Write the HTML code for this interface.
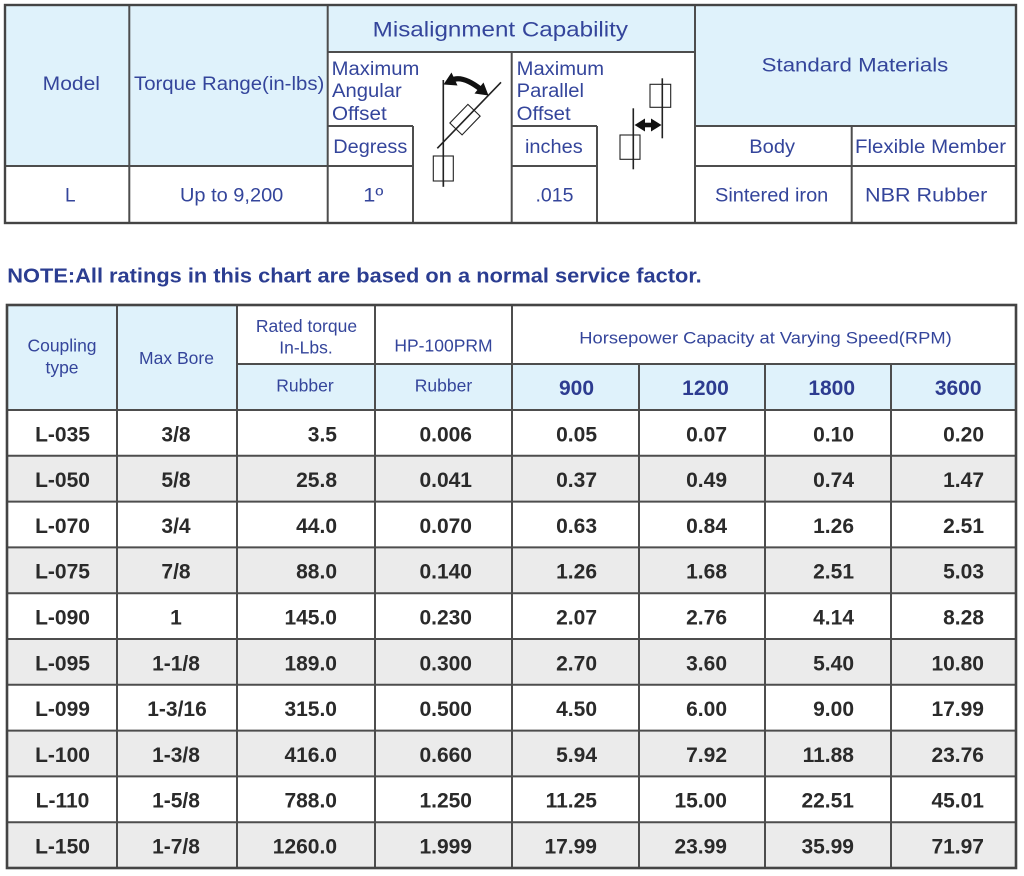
<!DOCTYPE html>
<html>
<head>
<meta charset="utf-8">
<style>
  html, body { margin:0; padding:0; background:#ffffff; }
  svg { display:block; }
  .h { font-family:"Liberation Sans", Arial, sans-serif; fill:#34459b; }
  .d { font-family:"Liberation Sans", Arial, sans-serif; font-weight:bold; font-size:21px; fill:#2a2a2a; }
  .b { font-family:"Liberation Sans", Arial, sans-serif; font-weight:bold; font-size:21px; fill:#2d3c90; }
</style>
</head>
<body>
<svg width="1024" height="876" viewBox="0 0 1024 876" xmlns="http://www.w3.org/2000/svg">

  <!-- ================= TOP TABLE ================= -->
  <rect x="5" y="5" width="322.7" height="161" fill="#dff2fb"/>
  <rect x="327.7" y="5" width="367.3" height="47" fill="#dff2fb"/>
  <rect x="695" y="5" width="321" height="121" fill="#dff2fb"/>

  <g stroke="#4d4d4d" stroke-width="2" fill="none">
    <line x1="129.3" y1="5" x2="129.3" y2="223"/>
    <line x1="327.7" y1="5" x2="327.7" y2="223"/>
    <line x1="695" y1="5" x2="695" y2="223"/>
    <line x1="327.7" y1="52" x2="695" y2="52"/>
    <line x1="511.7" y1="52" x2="511.7" y2="223"/>
    <line x1="327.7" y1="126" x2="413" y2="126"/>
    <line x1="511.7" y1="126" x2="597" y2="126"/>
    <line x1="695" y1="126" x2="1016" y2="126"/>
    <line x1="413" y1="126" x2="413" y2="223"/>
    <line x1="597" y1="126" x2="597" y2="223"/>
    <line x1="5" y1="166" x2="413" y2="166"/>
    <line x1="511.7" y1="166" x2="597" y2="166"/>
    <line x1="695" y1="166" x2="1016" y2="166"/>
    <line x1="851.7" y1="126" x2="851.7" y2="223"/>
  </g>
  <rect x="5" y="5" width="1011" height="218" fill="none" stroke="#444" stroke-width="2.4"/>

  <text class="h" x="372.7" y="36.7" font-size="21" textLength="255.3" lengthAdjust="spacingAndGlyphs">Misalignment Capability</text>
  <text class="h" x="42.7" y="90" font-size="19" textLength="57.3" lengthAdjust="spacingAndGlyphs">Model</text>
  <text class="h" x="134" y="90" font-size="19" textLength="190.3" lengthAdjust="spacingAndGlyphs">Torque Range(in-lbs)</text>
  <text class="h" x="331.7" y="75" font-size="19" textLength="87.6" lengthAdjust="spacingAndGlyphs">Maximum</text>
  <text class="h" x="332" y="97" font-size="19" textLength="69.7" lengthAdjust="spacingAndGlyphs">Angular</text>
  <text class="h" x="332" y="120" font-size="19" textLength="54.7" lengthAdjust="spacingAndGlyphs">Offset</text>
  <text class="h" x="333.3" y="153" font-size="19" textLength="74" lengthAdjust="spacingAndGlyphs">Degress</text>
  <text class="h" x="65" y="201.7" font-size="19">L</text>
  <text class="h" x="180" y="201.7" font-size="19" textLength="103.3" lengthAdjust="spacingAndGlyphs">Up to 9,200</text>
  <text class="h" x="363.3" y="201.7" font-size="19" textLength="20" lengthAdjust="spacingAndGlyphs">1º</text>
  <text class="h" x="516.7" y="75" font-size="19" textLength="87.3" lengthAdjust="spacingAndGlyphs">Maximum</text>
  <text class="h" x="516.7" y="97" font-size="19" textLength="67.3" lengthAdjust="spacingAndGlyphs">Parallel</text>
  <text class="h" x="516.7" y="120" font-size="19" textLength="54" lengthAdjust="spacingAndGlyphs">Offset</text>
  <text class="h" x="525" y="153" font-size="19" textLength="57.7" lengthAdjust="spacingAndGlyphs">inches</text>
  <text class="h" x="535.5" y="201.7" font-size="19" textLength="38" lengthAdjust="spacingAndGlyphs">.015</text>
  <text class="h" x="761.7" y="71.7" font-size="19" textLength="186.6" lengthAdjust="spacingAndGlyphs">Standard Materials</text>
  <text class="h" x="749.3" y="153" font-size="19" textLength="45.7" lengthAdjust="spacingAndGlyphs">Body</text>
  <text class="h" x="855" y="153" font-size="19" textLength="151" lengthAdjust="spacingAndGlyphs">Flexible Member</text>
  <text class="h" x="715" y="201.7" font-size="19" textLength="113.3" lengthAdjust="spacingAndGlyphs">Sintered iron</text>
  <text class="h" x="865" y="201.7" font-size="19" textLength="122.3" lengthAdjust="spacingAndGlyphs">NBR Rubber</text>

  <!-- angular icon -->
  <g stroke="#222" fill="none">
    <line x1="443.3" y1="80" x2="443.3" y2="186.7" stroke-width="1.6"/>
    <rect x="433.3" y="156" width="20" height="25" stroke-width="1.1" fill="#fff"/>
    <line x1="443.3" y1="156" x2="443.3" y2="186.7" stroke-width="1.6"/>
    <line x1="437.3" y1="148.3" x2="501" y2="82.3" stroke-width="1.6"/>
    <rect x="-13" y="-8.5" width="26" height="17" stroke-width="1.1" transform="translate(465,119.6) rotate(-46)"/>
    <path d="M 451,80.5 Q 462,74.5 481,89.5" stroke="#111" stroke-width="5.2"/>
  </g>
  <polygon points="443.5,84.5 457.5,85.5 451.5,72.5" fill="#111"/>
  <polygon points="488.5,95.5 474.5,93.5 483.5,82.5" fill="#111"/>

  <!-- parallel icon -->
  <g stroke="#222" fill="none">
    <rect x="650" y="84.3" width="20.7" height="23" stroke-width="1.1"/>
    <line x1="662.3" y1="78.3" x2="662.3" y2="138.3" stroke-width="1.6"/>
    <rect x="620" y="135" width="20" height="24.3" stroke-width="1.1"/>
    <line x1="633.3" y1="108.3" x2="633.3" y2="169.3" stroke-width="1.6"/>
    <line x1="641" y1="125" x2="655" y2="125" stroke="#111" stroke-width="4.6"/>
  </g>
  <polygon points="634.5,125 645,118.5 645,131.5" fill="#111"/>
  <polygon points="661.5,125 651,118.5 651,131.5" fill="#111"/>

  <!-- ================= NOTE ================= -->
  <text x="7.3" y="282.3" font-family="Liberation Sans, Arial, sans-serif" font-weight="bold" font-size="20" fill="#2b3d91" textLength="694.4" lengthAdjust="spacingAndGlyphs">NOTE:All ratings in this chart are based on a normal service factor.</text>

  <!-- ================= LOWER TABLE ================= -->
  <rect x="7" y="305" width="230" height="105" fill="#dff2fb"/>
  <rect x="237" y="364" width="779" height="46" fill="#dff2fb"/>
  <g fill="#ebebeb">
    <rect x="7" y="455.8" width="1009" height="45.8"/>
    <rect x="7" y="547.4" width="1009" height="45.8"/>
    <rect x="7" y="639" width="1009" height="45.8"/>
    <rect x="7" y="730.6" width="1009" height="45.8"/>
    <rect x="7" y="822.2" width="1009" height="45.8"/>
  </g>

  <g stroke="#4d4d4d" stroke-width="2" fill="none">
    <line x1="117" y1="305" x2="117" y2="868"/>
    <line x1="237" y1="305" x2="237" y2="868"/>
    <line x1="375" y1="305" x2="375" y2="868"/>
    <line x1="512" y1="305" x2="512" y2="868"/>
    <line x1="639" y1="364" x2="639" y2="868"/>
    <line x1="765" y1="364" x2="765" y2="868"/>
    <line x1="891" y1="364" x2="891" y2="868"/>
    <line x1="237" y1="364" x2="1016" y2="364"/>
    <line x1="7" y1="410" x2="1016" y2="410"/>
    <line x1="7" y1="455.8" x2="1016" y2="455.8"/>
    <line x1="7" y1="501.6" x2="1016" y2="501.6"/>
    <line x1="7" y1="547.4" x2="1016" y2="547.4"/>
    <line x1="7" y1="593.2" x2="1016" y2="593.2"/>
    <line x1="7" y1="639" x2="1016" y2="639"/>
    <line x1="7" y1="684.8" x2="1016" y2="684.8"/>
    <line x1="7" y1="730.6" x2="1016" y2="730.6"/>
    <line x1="7" y1="776.4" x2="1016" y2="776.4"/>
    <line x1="7" y1="822.2" x2="1016" y2="822.2"/>
  </g>
  <rect x="7" y="305" width="1009" height="563" fill="none" stroke="#444" stroke-width="2.6"/>

  <!-- header texts -->
  <g class="h" font-size="17.5" text-anchor="middle">
    <text x="62" y="351.3">Coupling</text>
    <text x="62" y="373.5">type</text>
    <text x="176.5" y="364">Max Bore</text>
    <text x="306.5" y="332">Rated torque</text>
    <text x="306" y="353.3">In-Lbs.</text>
    <text x="443.5" y="351.7">HP-100PRM</text>
    <text x="305" y="391.7">Rubber</text>
    <text x="443.5" y="391.7">Rubber</text>
  </g>
  <text class="h" x="579.3" y="343.3" font-size="17" textLength="372.4" lengthAdjust="spacingAndGlyphs">Horsepower Capacity at Varying Speed(RPM)</text>
  <g class="b" text-anchor="middle">
    <text x="576.5" y="395">900</text>
    <text x="705.5" y="395">1200</text>
    <text x="831.7" y="395">1800</text>
    <text x="958.2" y="395">3600</text>
  </g>

  <!-- data rows -->
  <g class="d">
    <g text-anchor="middle">
      <text x="62.5" y="441.3">L-035</text>
      <text x="62.5" y="487.1">L-050</text>
      <text x="62.5" y="532.9">L-070</text>
      <text x="62.5" y="578.7">L-075</text>
      <text x="62.5" y="624.5">L-090</text>
      <text x="62.5" y="670.3">L-095</text>
      <text x="62.5" y="716.1">L-099</text>
      <text x="62.5" y="761.9">L-100</text>
      <text x="62.5" y="807.7">L-110</text>
      <text x="62.5" y="853.5">L-150</text>

      <text x="176" y="441.3">3/8</text>
      <text x="176" y="487.1">5/8</text>
      <text x="176" y="532.9">3/4</text>
      <text x="176" y="578.7">7/8</text>
      <text x="176" y="624.5">1</text>
      <text x="176" y="670.3">1-1/8</text>
      <text x="177" y="716.1">1-3/16</text>
      <text x="176" y="761.9">1-3/8</text>
      <text x="176" y="807.7">1-5/8</text>
      <text x="176" y="853.5">1-7/8</text>
    </g>
    <g text-anchor="end">
      <text x="337" y="441.3">3.5</text>
      <text x="337" y="487.1">25.8</text>
      <text x="337" y="532.9">44.0</text>
      <text x="337" y="578.7">88.0</text>
      <text x="337" y="624.5">145.0</text>
      <text x="337" y="670.3">189.0</text>
      <text x="337" y="716.1">315.0</text>
      <text x="337" y="761.9">416.0</text>
      <text x="337" y="807.7">788.0</text>
      <text x="337" y="853.5">1260.0</text>

      <text x="472" y="441.3">0.006</text>
      <text x="472" y="487.1">0.041</text>
      <text x="472" y="532.9">0.070</text>
      <text x="472" y="578.7">0.140</text>
      <text x="472" y="624.5">0.230</text>
      <text x="472" y="670.3">0.300</text>
      <text x="472" y="716.1">0.500</text>
      <text x="472" y="761.9">0.660</text>
      <text x="472" y="807.7">1.250</text>
      <text x="472" y="853.5">1.999</text>

      <text x="597" y="441.3">0.05</text>
      <text x="597" y="487.1">0.37</text>
      <text x="597" y="532.9">0.63</text>
      <text x="597" y="578.7">1.26</text>
      <text x="597" y="624.5">2.07</text>
      <text x="597" y="670.3">2.70</text>
      <text x="597" y="716.1">4.50</text>
      <text x="597" y="761.9">5.94</text>
      <text x="597" y="807.7">11.25</text>
      <text x="597" y="853.5">17.99</text>

      <text x="727" y="441.3">0.07</text>
      <text x="727" y="487.1">0.49</text>
      <text x="727" y="532.9">0.84</text>
      <text x="727" y="578.7">1.68</text>
      <text x="727" y="624.5">2.76</text>
      <text x="727" y="670.3">3.60</text>
      <text x="727" y="716.1">6.00</text>
      <text x="727" y="761.9">7.92</text>
      <text x="727" y="807.7">15.00</text>
      <text x="727" y="853.5">23.99</text>

      <text x="854" y="441.3">0.10</text>
      <text x="854" y="487.1">0.74</text>
      <text x="854" y="532.9">1.26</text>
      <text x="854" y="578.7">2.51</text>
      <text x="854" y="624.5">4.14</text>
      <text x="854" y="670.3">5.40</text>
      <text x="854" y="716.1">9.00</text>
      <text x="854" y="761.9">11.88</text>
      <text x="854" y="807.7">22.51</text>
      <text x="854" y="853.5">35.99</text>

      <text x="984" y="441.3">0.20</text>
      <text x="984" y="487.1">1.47</text>
      <text x="984" y="532.9">2.51</text>
      <text x="984" y="578.7">5.03</text>
      <text x="984" y="624.5">8.28</text>
      <text x="984" y="670.3">10.80</text>
      <text x="984" y="716.1">17.99</text>
      <text x="984" y="761.9">23.76</text>
      <text x="984" y="807.7">45.01</text>
      <text x="984" y="853.5">71.97</text>
    </g>
  </g>
</svg>
</body>
</html>
